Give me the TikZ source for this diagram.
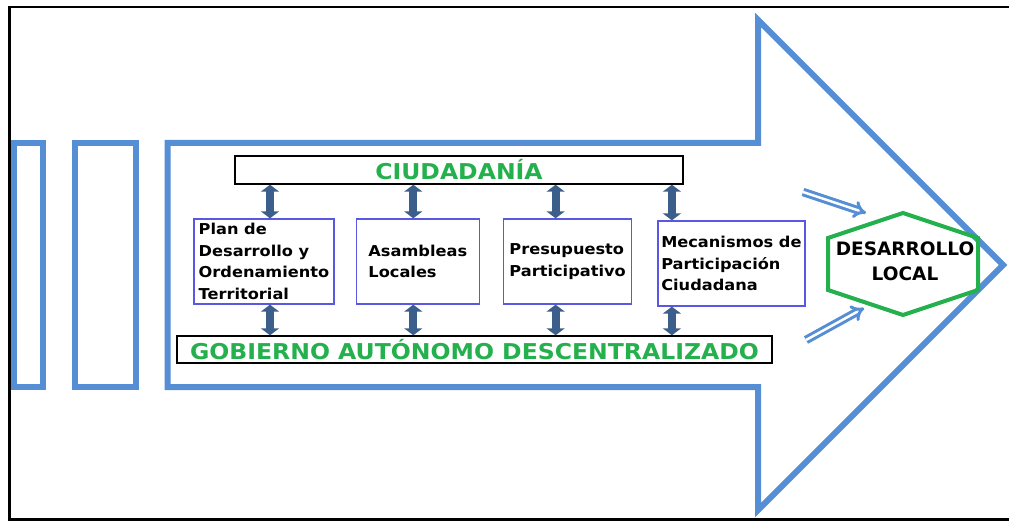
\documentclass[tikz,border=0pt]{standalone}
\usepackage{fontspec}
\setmainfont{DejaVu Sans}
\newfontfamily\widefont[FakeStretch=1.08]{DejaVu Sans}
\usetikzlibrary{positioning,arrows.meta}
\definecolor{bigblue}{RGB}{85,142,213}
\definecolor{linkblue}{RGB}{59,94,138}
\definecolor{boxblue}{RGB}{88,88,226}
\definecolor{gadgreen}{RGB}{36,176,76}

\begin{document}
\begin{tikzpicture}[x=1pt, y=-1pt,
    bigshape/.style={draw=bigblue, line width=6pt, line join=miter},
    title/.style={draw=black, line width=1.4pt, inner sep=0pt, text=gadgreen,
      font=\widefont\bfseries\fontsize{21.8}{24}\selectfont},
    item/.style={draw=boxblue, line width=1.3pt, minimum height=85pt, inner sep=2pt,
      align=left, font=\widefont\bfseries\fontsize{15}{21.5}\selectfont},
    link/.style={draw=linkblue, line width=8pt,
      {Triangle[width=18pt,length=7pt]}-{Triangle[width=18pt,length=7pt]}},
    feed/.style={draw=bigblue, line width=3pt, double=white, double distance=2.5pt,
      -{Implies[scale=1.5]}},
    hexline/.style={draw=gadgreen, line width=4pt, line join=miter},
    hextext/.style={align=center, inner sep=0pt, font=\bfseries\fontsize{18.5}{25}\selectfont}
  ]
  \useasboundingbox (0,0) rectangle (1009,521);
  \draw[black, line width=2.4pt] (1012,7) -- (9.5,7) -- (9.5,519.5) -- (1012,519.5);

  % big arrow and the two bars behind it
  \draw[bigshape] (14,143) rectangle (43,387);
  \draw[bigshape] (74.5,143) rectangle (136,387);
  \draw[bigshape] (167.5,143) -- (758,143) -- (758,20) -- (1003,265)
    -- (758,510) -- (758,387) -- (167.5,387) -- cycle;

  \node[title, minimum width=448pt, minimum height=28pt] (ciu) at (459,170) {CIUDADANÍA};
  \node[title, minimum width=595pt, minimum height=27pt] (gad) at (474.5,349.5)
    {GOBIERNO AUTÓNOMO DESCENTRALIZADO};

  \node[item, minimum width=140pt] (pdot) at (264,261.5)
    {Plan de\\Desarrollo y\\Ordenamiento\\Territorial};
  \node[item, minimum width=123pt, right=21pt of pdot] (asam) {Asambleas\\Locales};
  \node[item, minimum width=128pt, right=23pt of asam] (presu) {Presupuesto\\Participativo};
  \node[item, minimum width=147pt, right=25pt of presu, yshift=-2pt] (meca)
    {Mecanismos de\\Participación\\Ciudadana};

  \draw[link] ([xshift=6pt]pdot.north |- ciu.south) -- ([xshift=6pt]pdot.north);
  \draw[link] ([xshift=-4.5pt]asam.north |- ciu.south) -- ([xshift=-4.5pt]asam.north);
  \draw[link] ([xshift=-12pt]presu.north |- ciu.south) -- ([xshift=-12pt]presu.north);
  \draw[link] ([xshift=-59.5pt]meca.north |- ciu.south) -- ([xshift=-59.5pt]meca.north);

  \draw[link] ([xshift=6pt]pdot.south) -- ([xshift=6pt]pdot.south |- gad.north);
  \draw[link] ([xshift=-4.5pt]asam.south) -- ([xshift=-4.5pt]asam.south |- gad.north);
  \draw[link] ([xshift=-12pt]presu.south) -- ([xshift=-12pt]presu.south |- gad.north);
  \draw[link] ([xshift=-59.5pt]meca.south) -- ([xshift=-59.5pt]meca.south |- gad.north);

  % desarrollo local
  \node[hextext] (dl) at (905,261) {DESARROLLO\\LOCAL};
  \draw[hexline, shift={(903,264)}] (0,-51) -- (75,-26) -- (75,26) -- (0,51)
    -- (-75,26) -- (-75,-26) -- cycle;

  \coordinate (upfrom) at (803,192);
  \coordinate (upto) at (866,213);
  \coordinate (lowfrom) at (806,340);
  \coordinate (lowto) at (864,308);
  \draw[feed] (upfrom) -- (upto);
  \draw[feed] (lowfrom) -- (lowto);
\end{tikzpicture}
\end{document}
